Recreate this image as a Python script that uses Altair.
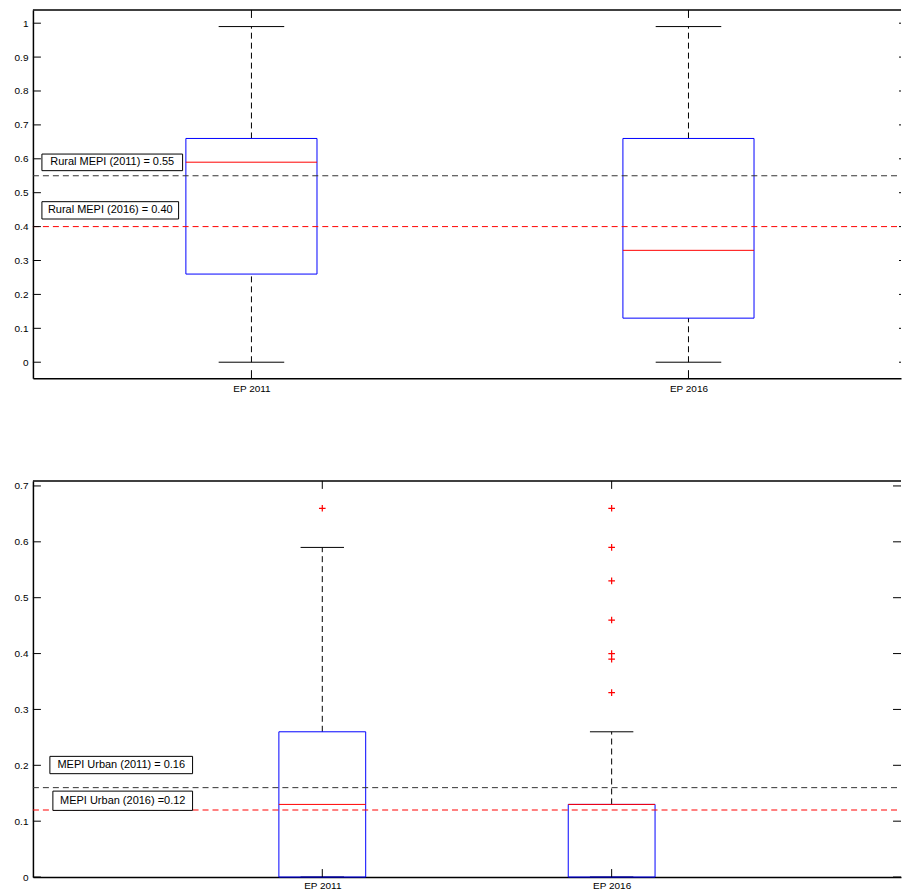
import json

import altair as alt
import pandas as pd

# ---- data -------------------------------------------------------------
years = ["EP 2011", "EP 2016"]
positions = [1, 2]

# Rural MEPI box statistics (per survey)
rural_low = [0.00, 0.00]
rural_q1 = [0.26, 0.13]
rural_median = [0.59, 0.33]
rural_q3 = [0.66, 0.66]
rural_high = [0.99, 0.99]

# Urban MEPI box statistics (per survey)
urban_low = [0.00, 0.00]
urban_q1 = [0.00, 0.00]
urban_median = [0.13, 0.13]
urban_q3 = [0.26, 0.13]
urban_high = [0.59, 0.26]

# Urban outliers
urban_outliers_2011 = [0.66]
urban_outliers_2016 = [0.66, 0.59, 0.53, 0.46, 0.40, 0.39, 0.33]

# Reference levels and their annotations
rural_ref_labels = ["Rural MEPI (2011) = 0.55", "Rural MEPI (2016) = 0.40"]
rural_ref_values = [0.55, 0.40]
urban_ref_labels = ["MEPI Urban (2011) = 0.16", "MEPI Urban (2016) =0.12"]
urban_ref_values = [0.16, 0.12]

rural_ticks = [0, 0.1, 0.2, 0.3, 0.4, 0.5, 0.6, 0.7, 0.8, 0.9, 1.0]
urban_ticks = [0, 0.1, 0.2, 0.3, 0.4, 0.5, 0.6, 0.7]

# ---- styling ----------------------------------------------------------
FONT = "Liberation Sans, Arial, Helvetica, sans-serif"
BOX_HALF = 0.15
CAP_HALF = 0.075
TICK_LEN = 8
BLUE = "#0000ff"
RED = "#ff0000"
DARK = "#333333"
W = 870


def stats_frame(low, q1, med, q3, high):
    df = pd.DataFrame({"year": years, "pos": positions, "low": low, "q1": q1,
                       "median": med, "q3": q3, "high": high})
    df["box_l"] = df["pos"] - BOX_HALF
    df["box_r"] = df["pos"] + BOX_HALF
    df["cap_l"] = df["pos"] - CAP_HALF
    df["cap_r"] = df["pos"] + CAP_HALF
    return df


def panel(stats, outliers, ref_values, ref_labels, ticks, y_dom, x_dom, H,
          x_label_pad, notes, right_tick_len):
    xs = alt.Scale(domain=x_dom, nice=False, zero=False)
    ys = alt.Scale(domain=y_dom, nice=False, zero=False)
    x_axis = alt.Axis(values=positions,
                      labelExpr=json.dumps(years) + "[datum.value - 1]",
                      ticks=False, grid=False, domainColor="black",
                      domainWidth=1.5, labelPadding=x_label_pad,
                      labelFontSize=10, labelColor="black", labelAngle=0,
                      title="")
    y_axis = alt.Axis(values=ticks,
                      labelExpr="format(datum.value, '.1~f')",
                      ticks=False, grid=False, domainColor="black",
                      domainWidth=1.5, labelPadding=5, labelFontSize=10,
                      labelColor="black", title="")

    def X(f):
        return alt.X(f, type="quantitative", scale=xs, axis=x_axis)

    def Y(f):
        return alt.Y(f, type="quantitative", scale=ys, axis=y_axis)

    base = alt.Chart(stats)
    whisk_hi = base.mark_rule(color="black", strokeDash=[6, 4]).encode(
        x=X("pos"), y=Y("q3"), y2="high")
    whisk_lo = base.mark_rule(color="black", strokeDash=[6, 4]).encode(
        x=X("pos"), y=Y("low"), y2="q1")
    cap_hi = base.mark_rule(color="black").encode(
        x=X("cap_l"), x2="cap_r", y=Y("high"))
    cap_lo = base.mark_rule(color="black").encode(
        x=X("cap_l"), x2="cap_r", y=Y("low"))
    box = base.mark_rect(fillOpacity=0, stroke=BLUE, strokeWidth=1).encode(
        x=X("box_l"), x2="box_r", y=Y("q1"), y2="q3")
    med = base.mark_rule(color=RED).encode(
        x=X("box_l"), x2="box_r", y=Y("median"))

    layers = [whisk_hi, whisk_lo, cap_hi, cap_lo, box, med]

    if len(outliers):
        layers.append(
            alt.Chart(outliers).mark_point(
                shape="M-1,0L1,0M0,-1L0,1", size=44, color=RED,
                filled=False, strokeWidth=1.2, opacity=1
            ).encode(x=X("pos"), y=Y("value"))
        )

    for value, color in zip(ref_values, [DARK, RED]):
        layers.append(
            alt.Chart(pd.DataFrame({"value": [value]})).mark_rule(
                color=color, strokeDash=[6, 4], strokeWidth=1
            ).encode(y=Y("value"), x=alt.value(0), x2=alt.value(W))
        )

    for label, (px1, px2, top, bottom) in zip(ref_labels, notes):
        nd = pd.DataFrame({"label": [label], "top": [top], "bottom": [bottom],
                           "mid": [(top + bottom) / 2]})
        layers.append(
            alt.Chart(nd).mark_rect(fill="white", stroke="black",
                                    strokeWidth=1).encode(
                x=alt.value(px1), x2=alt.value(px2), y=Y("top"), y2="bottom")
        )
        layers.append(
            alt.Chart(nd).mark_text(fontSize=11, font=FONT, color="black",
                                    align="center", baseline="middle").encode(
                x=alt.value((px1 + px2) / 2), y=Y("mid"), text="label:N")
        )

    tick_df = pd.DataFrame({"t": ticks})
    layers.append(alt.Chart(tick_df).mark_rule(color="black").encode(
        y=Y("t"), x=alt.value(0), x2=alt.value(TICK_LEN)))
    layers.append(alt.Chart(tick_df).mark_rule(color="black").encode(
        y=Y("t"), x=alt.value(W - right_tick_len), x2=alt.value(W)))
    layers.append(base.mark_rule(color="black").encode(
        x=X("pos"), y=alt.value(H - TICK_LEN), y2=alt.value(H)))
    layers.append(base.mark_rule(color="black").encode(
        x=X("pos"), y=alt.value(0), y2=alt.value(TICK_LEN)))
    layers.append(
        alt.Chart(pd.DataFrame({"k": [0]})).mark_rule(
            color="black", strokeWidth=1.5
        ).encode(x=alt.value(0), x2=alt.value(W), y=alt.value(0))
    )

    return alt.layer(*layers).properties(width=W, height=H)


rural = stats_frame(rural_low, rural_q1, rural_median, rural_q3, rural_high)
urban = stats_frame(urban_low, urban_q1, urban_median, urban_q3, urban_high)

urban_out = pd.DataFrame({
    "pos": [1] * len(urban_outliers_2011) + [2] * len(urban_outliers_2016),
    "value": urban_outliers_2011 + urban_outliers_2016,
})

top = panel(
    rural, pd.DataFrame(), rural_ref_values, rural_ref_labels, rural_ticks,
    y_dom=[-0.047, 1.039], x_dom=[0.5, 0.5 + W / 438.0], H=369,
    x_label_pad=5,
    notes=[(9, 150, 0.614, 0.565), (9, 146, 0.4735, 0.4224)],
    right_tick_len=2,
)

bottom = panel(
    urban, urban_out, urban_ref_values, urban_ref_labels, urban_ticks,
    y_dom=[0, 0.709], x_dom=[0, 3 * (W + 1) / 871.0], H=397,
    x_label_pad=3,
    notes=[(17, 160, 0.216, 0.185), (20, 160, 0.1538, 0.1193)],
    right_tick_len=TICK_LEN,
)

chart = alt.vconcat(top, bottom, spacing=103, bounds="flush").properties(
    padding={"left": 13, "top": 7, "right": 0, "bottom": 0}
).configure_view(stroke="transparent").configure_axis(
    labelFont=FONT
).configure_text(font=FONT)

chart.save("out.html", embed_options={"renderer": "svg", "actions": False})
